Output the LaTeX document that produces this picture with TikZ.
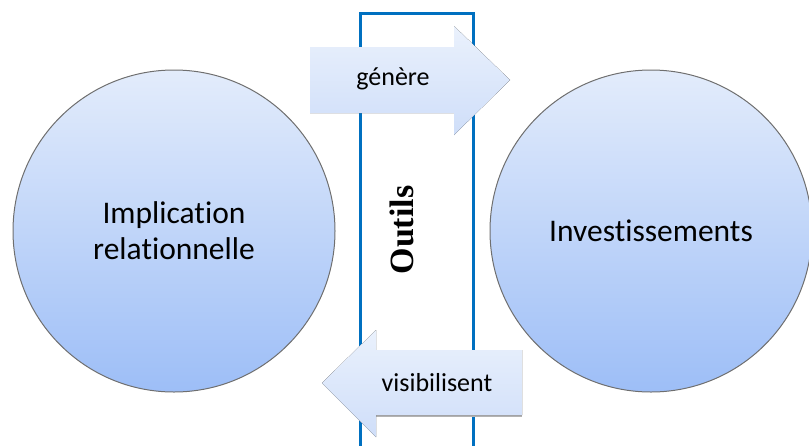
\documentclass[tikz,border=0pt]{standalone}
\usepackage{fontspec}
\setmainfont[Ligatures={NoCommon}]{Carlito}
\newfontfamily\outilsfont{Liberation Serif}
\definecolor{circtop}{HTML}{E3ECFB}
\definecolor{circbot}{HTML}{9DBEF7}
\definecolor{arrtop}{HTML}{EAF1FC}
\definecolor{arrbot}{HTML}{CFDEF9}
\definecolor{frameblue}{HTML}{0070C0}
\definecolor{rimgray}{HTML}{6F6F6F}
\tikzset{
  bigcircle/.style={circle, minimum size=322pt, inner sep=0pt, draw=rimgray, line width=1pt,
    top color=circtop, bottom color=circbot, align=center, font=\fontsize{31.5}{36}\selectfont},
  arrowshape/.style={top color=arrtop, bottom color=arrbot, draw=none},
  arrowlabel/.style={font=\fontsize{26}{30}\selectfont, inner sep=0pt},
  frameline/.style={draw=frameblue, line width=3pt}
}
\begin{document}
\begin{tikzpicture}[x=1pt,y=-1pt]
\useasboundingbox (0,0) rectangle (809,445);
\clip (0,0) rectangle (809,445);
% frame "Outils"
\coordinate (fbl) at (360,460);
\coordinate (ftl) at (360,13);
\coordinate (ftr) at (473,13);
\coordinate (fbr) at (473,460);
\draw[frameline] (fbl) -- (ftl) -- (ftr) -- (fbr);
\node[font=\outilsfont\bfseries\fontsize{34}{38}\selectfont, rotate=90, inner sep=0pt] (outils) at (402,230) {Outils};
% circles
\node[bigcircle] (impl) at (174,231) {Implication\\relationnelle};
\node[bigcircle] (inv) at (651,231) {Investissements};
% top arrow
\fill[arrowshape] (310,47) -- (454,47) -- (454,26) -- (510,80) -- (454,135) -- (454,113) -- (310,113) -- cycle;
\node[arrowlabel] (gen) at (393,79) {génère};
% bottom arrow
\draw[gray!60, line width=1.2pt] (376,416) -- (521,416) -- (521,351);
\fill[arrowshape] (522,350) -- (376,350) -- (376,330) -- (322,383) -- (376,437) -- (376,415) -- (522,415) -- cycle;
\node[arrowlabel] (vis) at (437,383) {visibilisent};
\end{tikzpicture}
\end{document}
